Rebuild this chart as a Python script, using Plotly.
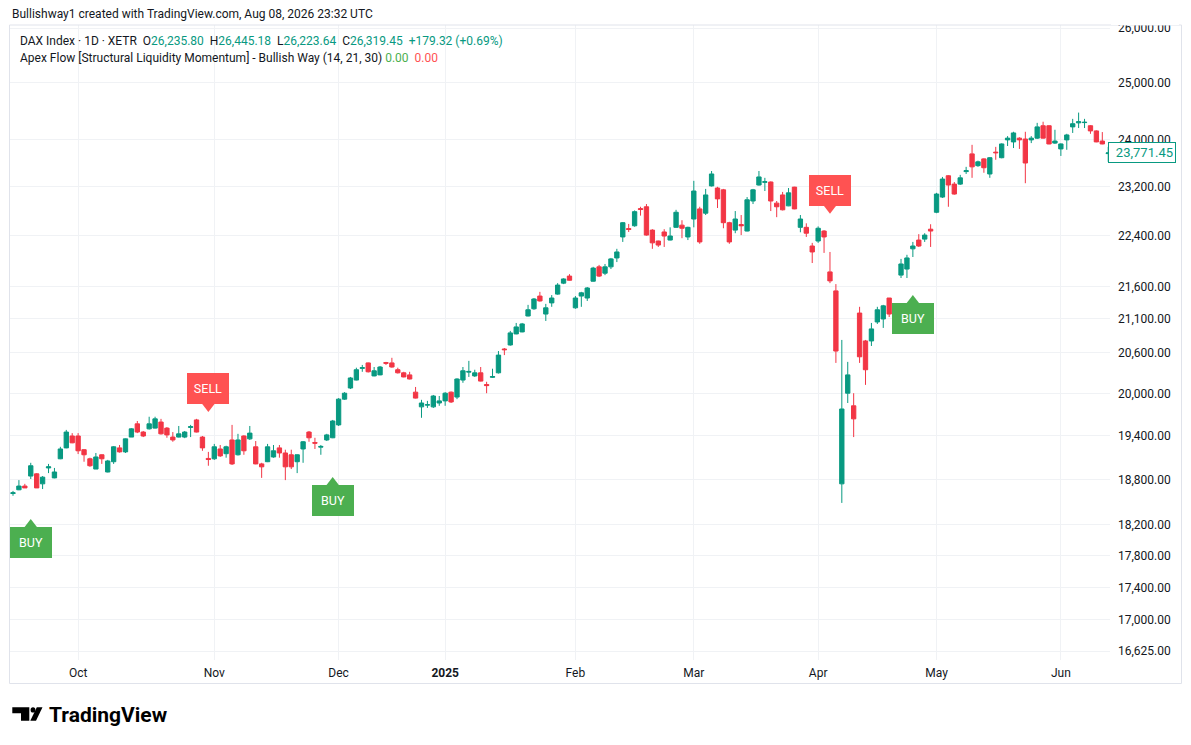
import numpy as np
import plotly.graph_objects as go

# DAX Index, daily candles (XETR), 16 Sep 2024 -> 12 Jun 2025
opens = [18615, 18665, 18715, 18850, 18880, 18745, 18960, 18825, 19085, 19235,
         19400, 19400, 19210, 19085, 18945, 19140, 18905, 19045, 19235, 19180,
         19385, 19570, 19455, 19500, 19510, 19595, 19510, 19385, 19385, 19385,
         19520, 19625, 19385, 19090, 19085, 19220, 19155, 19345, 19140, 19400,
         19360, 19250, 19015, 19045, 19110, 19235, 19165, 19140, 19045, 19220,
         19455, 19310, 19245, 19345, 19375, 19555, 19920, 20080, 20195, 20365,
         20445, 20255, 20270, 20450, 20445, 20345, 20300, 20270, 20020, 19810,
         19835, 19810, 19865, 19895, 20020, 19950, 20195, 20310, 20255, 20300,
         20130, 20235, 20300, 20650, 20710, 20875, 20905, 21145, 21255, 21450,
         21175, 21345, 21480, 21650, 21760, 21270, 21450, 21420, 21680, 21905,
         21805, 21905, 22045, 22380, 22515, 22560, 22840, 22870, 22490, 22315,
         22460, 22330, 22535, 22570, 22380, 22670, 22835, 22765, 23215, 23180,
         23150, 22610, 22490, 22580, 22475, 22965, 23230, 23275, 23280, 22930,
         23065, 22885, 23195, 22535, 22535, 22235, 22315, 22475, 21825, 21530,
         18745, 20005, 19825, 21190, 20770, 20770, 21055, 21100, 21420, 21130,
         21775, 21870, 22190, 22330, 22345, 22505, 22780, 23030, 23385, 23245,
         23245, 23455, 23755, 23555, 23670, 23415, 23785, 23690, 23995, 23960,
         24025, 24010, 23995, 24025, 24240, 24240, 23940, 23840, 23995, 24220,
         24290, 24295, 24240, 24150, 23975, 23760]
highs = [18650, 18795, 18745, 19030, 18890, 18850, 19015, 18960, 19250, 19485,
         19440, 19440, 19215, 19100, 19165, 19145, 19070, 19260, 19275, 19365,
         19510, 19610, 19470, 19670, 19670, 19640, 19525, 19455, 19540, 19470,
         19555, 19640, 19400, 19180, 19290, 19275, 19265, 19555, 19430, 19410,
         19540, 19330, 19030, 19290, 19275, 19275, 19210, 19210, 19145, 19330,
         19470, 19375, 19275, 19430, 19625, 19935, 20020, 20240, 20375, 20415,
         20450, 20385, 20400, 20460, 20520, 20375, 20315, 20315, 20095, 19910,
         19895, 19980, 19965, 20020, 20030, 20220, 20385, 20475, 20345, 20385,
         20170, 20360, 20620, 20665, 20920, 21040, 21040, 21315, 21420, 21515,
         21330, 21465, 21650, 21725, 21790, 21450, 21515, 21590, 21905, 21935,
         21950, 22045, 22190, 22620, 22590, 22810, 22870, 22915, 22505, 22320,
         22505, 22535, 22820, 22650, 22545, 23300, 22870, 23165, 23465, 23200,
         23165, 22625, 22800, 22735, 23030, 23165, 23465, 23350, 23290, 22965,
         23115, 23180, 23200, 22735, 22600, 22285, 22550, 22490, 22140, 21635,
         20785, 20460, 20005, 21285, 20785, 21040, 21285, 21315, 21420, 21315,
         22030, 22095, 22300, 22425, 22440, 22585, 23100, 23365, 23395, 23280,
         23400, 23535, 23910, 23640, 23680, 23700, 23875, 23935, 24060, 24135,
         24040, 24135, 24060, 24290, 24310, 24245, 24170, 23935, 24100, 24360,
         24470, 24360, 24250, 24160, 24130, 23875]
lows = [18585, 18660, 18690, 18810, 18690, 18675, 18890, 18820, 19080, 19230,
        19300, 19150, 19045, 18975, 18945, 19015, 18900, 19015, 19170, 19165,
        19385, 19440, 19385, 19490, 19505, 19420, 19375, 19320, 19380, 19370,
        19385, 19450, 19195, 18990, 19070, 19110, 19100, 19000, 19130, 19140,
        19345, 19010, 18825, 19040, 19100, 19100, 18795, 18945, 18890, 19030,
        19320, 19220, 19140, 19330, 19370, 19540, 19910, 20065, 20190, 20315,
        20305, 20250, 20265, 20415, 20375, 20290, 20235, 20205, 19930, 19655,
        19795, 19795, 19825, 19825, 19865, 19920, 20155, 20240, 20240, 20175,
        20005, 20225, 20290, 20560, 20700, 20870, 20900, 21140, 21240, 21365,
        21070, 21285, 21470, 21635, 21690, 21255, 21285, 21375, 21675, 21745,
        21775, 21870, 21980, 22300, 22460, 22545, 22725, 22400, 22190, 22220,
        22220, 22325, 22530, 22360, 22330, 22535, 22270, 22735, 23205, 22850,
        22520, 22270, 22440, 22410, 22470, 22915, 23220, 23130, 22800, 22700,
        22810, 22880, 22830, 22455, 22380, 21965, 22285, 22125, 21650, 20445,
        18490, 19865, 19385, 20445, 20125, 20695, 21025, 20965, 21130, 21040,
        21730, 21730, 22060, 22220, 22300, 22220, 22765, 23015, 22870, 23070,
        23230, 23415, 23350, 23535, 23435, 23350, 23655, 23680, 23890, 23855,
        23840, 23260, 23940, 24010, 24020, 23920, 23925, 23720, 23825, 24115,
        24200, 24200, 24100, 23955, 23920, 23620]
closes = [18625, 18715, 18690, 18990, 18690, 18835, 18975, 18905, 19220, 19455,
          19305, 19195, 19140, 18990, 19110, 19085, 19055, 19250, 19180, 19360,
          19500, 19455, 19400, 19570, 19640, 19430, 19415, 19345, 19430, 19455,
          19530, 19455, 19235, 19075, 19250, 19125, 19250, 19015, 19345, 19195,
          19440, 19015, 18975, 19250, 19195, 19165, 18975, 18975, 19140, 19320,
          19375, 19300, 19255, 19415, 19610, 19920, 20005, 20225, 20345, 20375,
          20315, 20330, 20385, 20440, 20385, 20300, 20240, 20210, 19935, 19865,
          19840, 19965, 19895, 20005, 19880, 20210, 20330, 20320, 20300, 20180,
          20115, 20245, 20560, 20640, 20890, 20980, 21025, 21240, 21405, 21375,
          21270, 21420, 21620, 21715, 21695, 21420, 21500, 21575, 21885, 21760,
          21905, 22030, 22140, 22610, 22500, 22790, 22825, 22410, 22285, 22250,
          22395, 22395, 22780, 22520, 22535, 23130, 22300, 23065, 23415, 23000,
          22610, 22300, 22670, 22560, 22985, 23150, 23365, 23285, 22965, 22870,
          22820, 23100, 22835, 22670, 22440, 22140, 22520, 22380, 21685, 20620,
          19780, 20270, 19640, 20535, 20345, 20950, 21240, 21300, 21175, 21285,
          21950, 22045, 22235, 22235, 22410, 22475, 23080, 23330, 23230, 23080,
          23350, 23470, 23535, 23620, 23520, 23690, 23775, 23925, 24025, 24115,
          23995, 23600, 24025, 24220, 24025, 23925, 23975, 23925, 24080, 24275,
          24310, 24300, 24150, 23960, 23925, 23771.45]

# first trading day of each month (bar index) and its label
month_idx = [11, 34, 55, 73, 95, 115, 136, 156, 177]
month_txt = ["Oct", "Nov", "Dec", "<b>2025</b>", "Feb", "Mar", "Apr", "May", "Jun"]

price_ticks = [16625, 17000, 17400, 17800, 18200, 18800, 19400, 20000, 20600,
               21100, 21600, 22400, 23200, 24000, 25000, 26000]

# indicator labels: bar, kind, price where the box meets its pointer
sig_idx = [3, 33, 54, 138, 152]
sig_kind = ["BUY", "SELL", "BUY", "SELL", "BUY"]
sig_edge = [18173, 19852, 18730, 22885, 21345]

last_price = 23771.45

UP = "#089981"
DOWN = "#f23645"
BUY_C = "#4caf50"
SELL_C = "#ff5252"
TXT = "#131722"
GRID = "#f0f2f5"
FONT = "Roboto, 'Noto Sans', sans-serif"

# plot area in pixels: x 10..1110, y 25..660
def pp(xp, yp):
    return (xp - 10) / 1100, (660 - yp) / 635


def path(pts):
    s = ""
    for k, (a, b) in enumerate(pts):
        x, y = pp(a, b)
        s += ("M" if k == 0 else "L") + f"{x:.5f},{y:.5f} "
    return s + "Z"


fig = go.Figure()

fig.add_trace(go.Candlestick(
    x=list(range(len(closes))), open=opens, high=highs, low=lows, close=closes,
    increasing=dict(line=dict(color=UP, width=1), fillcolor=UP),
    decreasing=dict(line=dict(color=DOWN, width=1), fillcolor=DOWN),
    whiskerwidth=0, hoverinfo="skip", showlegend=False,
))

# pointers of the BUY / SELL labels
for kind, sym, col in [("BUY", "triangle-up", BUY_C), ("SELL", "triangle-down", SELL_C)]:
    xs = [i for i, k in zip(sig_idx, sig_kind) if k == kind]
    ys = [p for p, k in zip(sig_edge, sig_kind) if k == kind]
    fig.add_trace(go.Scatter(x=xs, y=ys, mode="markers",
                             marker=dict(symbol=sym, size=16, color=col, line=dict(width=0)),
                             hoverinfo="skip", showlegend=False))

for i, k, p in zip(sig_idx, sig_kind, sig_edge):
    fig.add_annotation(x=i, y=np.log10(p), text=k, showarrow=False,
                       xanchor="center", yanchor="top" if k == "BUY" else "bottom",
                       width=42, height=31, borderpad=0, borderwidth=0,
                       bgcolor=BUY_C if k == "BUY" else SELL_C,
                       font=dict(color="white", size=12.5, family=FONT))

# clip the top price label at the pane edge, like the original
fig.add_annotation(xref="paper", yref="paper", x=pp(1111, 0)[0], y=pp(0, 24.5)[1],
                   text="&nbsp;", showarrow=False, xanchor="left", yanchor="bottom",
                   width=68, height=22, borderpad=0, borderwidth=0, bgcolor="white")

# last price tag on the price scale
fig.add_annotation(xref="paper", x=pp(1108, 0)[0], y=np.log10(last_price),
                   text=f"{last_price:,.2f}", showarrow=False, xanchor="left", yanchor="middle",
                   width=62, align="right",
                   bgcolor="white", bordercolor=UP, borderwidth=1, borderpad=2,
                   font=dict(color=UP, size=13, family=FONT))

# header / legend text
fig.add_annotation(xref="paper", yref="paper", x=pp(10, 0)[0], y=pp(0, 14)[1],
                   text="Bullishway1 created with TradingView.com, Aug 08, 2026 23:32 UTC",
                   showarrow=False, xanchor="left", yanchor="middle",
                   font=dict(color=TXT, size=12, family=FONT))
g = UP
leg1 = (f"DAX Index · 1D · XETR&nbsp;&nbsp;O<span style='color:{g}'>26,235.80</span>"
        f"&nbsp;&nbsp;H<span style='color:{g}'>26,445.18</span>"
        f"&nbsp;&nbsp;L<span style='color:{g}'>26,223.64</span>"
        f"&nbsp;&nbsp;C<span style='color:{g}'>26,319.45</span>"
        f"&nbsp;&nbsp;<span style='color:{g}'>+179.32 (+0.69%)</span>")
leg2 = (f"Apex Flow [Structural Liquidity Momentum] - Bullish Way (14, 21, 30)&nbsp;"
        f"<span style='color:{BUY_C}'>0.00</span>&nbsp;&nbsp;<span style='color:{SELL_C}'>0.00</span>")
for txt, yp in [(leg1, 41), (leg2, 58)]:
    fig.add_annotation(xref="paper", yref="paper", x=pp(18, 0)[0], y=pp(0, yp)[1],
                       text=txt, showarrow=False, xanchor="left", yanchor="middle",
                       font=dict(color=TXT, size=12, family=FONT))

# TradingView footer
fig.add_annotation(xref="paper", yref="paper", x=pp(47, 0)[0], y=pp(0, 715)[1],
                   text="<b>TradingView</b>", showarrow=False, xanchor="left", yanchor="middle",
                   font=dict(color="#000000", size=21, family=FONT))

shapes = []
# logo glyph
shapes.append(dict(type="path", xref="paper", yref="paper", fillcolor="#000", line=dict(width=0),
                   path=path([(12.3, 707.3), (29.3, 707.3), (29.3, 720.7), (21.0, 720.7),
                              (21.0, 713.3), (12.3, 713.3)])))
shapes.append(dict(type="path", xref="paper", yref="paper", fillcolor="#000", line=dict(width=0),
                   path=path([(36.8, 707.3), (42.5, 707.3), (36.0, 720.7), (30.3, 720.7)])))
x0, y0 = pp(30.6, 712.6)
x1, y1 = pp(35.4, 707.3)
shapes.append(dict(type="circle", xref="paper", yref="paper", x0=x0, y0=y0, x1=x1, y1=y1,
                   fillcolor="#000", line=dict(width=0)))
# chart frame
x0, y0 = pp(9.5, 683.5)
x1, y1 = pp(1181.5, 25)
shapes.append(dict(type="rect", xref="paper", yref="paper", x0=x0, y0=y0, x1=x1, y1=y1,
                   line=dict(color="#e0e3eb", width=1), fillcolor="rgba(0,0,0,0)", layer="above"))

fig.update_layout(
    width=1191, height=745,
    margin=dict(l=10, r=81, t=25, b=85),
    paper_bgcolor="white", plot_bgcolor="white",
    showlegend=False, boxgap=0.12, boxgroupgap=0.17,
    font=dict(family=FONT, color=TXT, size=12),
    shapes=shapes,
    xaxis=dict(range=[-0.507, 185.3], tickmode="array", tickvals=month_idx, ticktext=month_txt,
               showgrid=True, gridcolor=GRID, gridwidth=1, ticks="", showline=False,
               zeroline=False, rangeslider=dict(visible=False), fixedrange=True,
               tickfont=dict(size=12, color=TXT, family=FONT), ticklabelstandoff=4),
    yaxis=dict(type="log", side="right", range=[4.21796, 4.41594], tickmode="array",
               tickvals=price_ticks, tickformat=",.2f", showgrid=True, gridcolor=GRID,
               gridwidth=1, ticks="", showline=False, zeroline=False, fixedrange=True,
               tickfont=dict(size=12, color=TXT, family=FONT), ticklabelstandoff=7),
)

# the page's default body margin would push the figure 8px down/right
fig.write_html("out.html", config={"displayModeBar": False},
               post_script="document.body.style.margin='0';")
